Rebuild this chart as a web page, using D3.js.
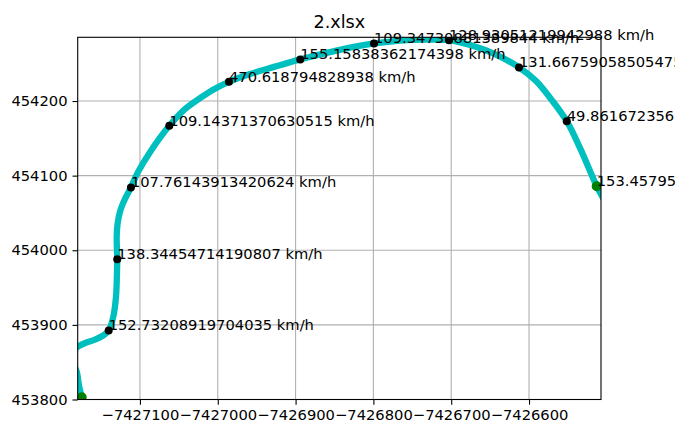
<!DOCTYPE html>
<html>
<head>
<meta charset="utf-8">
<script src="https://cdn.jsdelivr.net/npm/d3@7"></script>
<style>
  body { margin: 0; background: #fff; }
  svg { display: block; font-family: "DejaVu Sans", sans-serif; }
</style>
</head>
<body>
<div id="chart"></div>
<script>
// track (projected metres)
const trackX = [-7427174.9, -7427178.4, -7427181.0, -7427187.4, -7427182.3, -7427170.7, -7427157.8,
  -7427147.6, -7427140.2, -7427134.3, -7427130.8, -7427129.6, -7427129.2, -7427129.9, -7427128.8,
  -7427125.3, -7427120.6, -7427111.6, -7427102.6, -7427087.1, -7427062.3, -7427042.2, -7427022.9,
  -7427003.6, -7426985.6, -7426958.6, -7426926.5, -7426894.0, -7426855.8, -7426823.7, -7426799.2,
  -7426765.8, -7426733.7, -7426702.8, -7426673.3, -7426642.4, -7426612.9, -7426591.0, -7426571.7,
  -7426551.5, -7426533.2, -7426513.0, -7426501.1];
const trackY = [453803.1, 453819.2, 453836.6, 453855.4, 453868.8, 453875.5, 453880.2,
  453885.5, 453892.5, 453910.7, 453937.5, 453966.6, 453988.1, 454018.0, 454035.0,
  454053.1, 454065.8, 454084.2, 454104.7, 454131.5, 454166.8, 454189.2, 454203.9,
  454216.6, 454225.7, 454236.1, 454246.1, 454255.8, 454265.6, 454272.9, 454277.2,
  454281.0, 454282.3, 454281.6, 454274.3, 454262.2, 454245.0, 454226.7, 454202.6,
  454173.0, 454134.2, 454085.9, 454063.1];

// labelled speed points
const speedX = [-7427140.2, -7427129.2, -7427111.6, -7427062.3, -7426985.6, -7426894.0,
  -7426799.2, -7426702.8, -7426612.9, -7426551.5, -7426513.0];
const speedY = [453892.5, 453988.1, 454084.2, 454166.8, 454225.7, 454255.8,
  454277.2, 454281.6, 454245.0, 454173.0, 454085.9];
const speedLabels = ['152.73208919704035 km/h', '138.34454714190807 km/h', '107.76143913420624 km/h',
  '109.14371370630515 km/h', '470.618794828938 km/h', '155.15838362174398 km/h',
  '109.34730881389844 km/h', '128.93051219942988 km/h', '131.66759058505475 km/h',
  '49.86167235612345 km/h', '153.45795328162418 km/h'];

// start / end points
const endX = [-7427174.9, -7426513.0];
const endY = [453803.1, 454085.9];

const xTicks = [-7427100, -7427000, -7426900, -7426800, -7426700, -7426600];
const yTicks = [453800, 453900, 454000, 454100, 454200];
const chartTitle = '2.xlsx';

const W = 675, H = 424;
const plotL = 77.7, plotR = 601, plotT = 37.3, plotB = 399.5;
const fontSize = '14.7px';

const svg = d3.select('#chart').append('svg')
  .attr('width', W).attr('height', H);

const x = d3.scaleLinear().domain([-7427180, -7426507.5]).range([plotL, plotR]);
const y = d3.scaleLinear().domain([453800, 454285.4]).range([plotB, plotT]);

svg.append('defs').append('clipPath').attr('id', 'plot')
  .append('rect').attr('x', plotL).attr('y', plotT)
  .attr('width', plotR - plotL).attr('height', plotB - plotT);

// grid
svg.append('g').selectAll('line').data(xTicks).join('line')
  .attr('x1', d => x(d)).attr('x2', d => x(d))
  .attr('y1', plotT).attr('y2', plotB)
  .attr('stroke', '#b0b0b0').attr('stroke-width', 1.1);
svg.append('g').selectAll('line').data(yTicks).join('line')
  .attr('x1', plotL).attr('x2', plotR)
  .attr('y1', d => y(d)).attr('y2', d => y(d))
  .attr('stroke', '#b0b0b0').attr('stroke-width', 1.1);

const plot = svg.append('g').attr('clip-path', 'url(#plot)');

const line = d3.line()
  .x((d, i) => x(trackX[i]))
  .y((d, i) => y(trackY[i]))
  .curve(d3.curveCatmullRom);

plot.append('path')
  .attr('d', line(trackX))
  .attr('fill', 'none')
  .attr('stroke', '#00bfbf')
  .attr('stroke-width', 6.3)
  .attr('stroke-linejoin', 'round')
  .attr('stroke-linecap', 'round');

plot.selectAll('.speed').data(speedX).join('circle')
  .attr('class', 'speed')
  .attr('cx', d => x(d))
  .attr('cy', (d, i) => y(speedY[i]))
  .attr('r', 4)
  .attr('fill', '#000');

plot.selectAll('.end').data(endX).join('circle')
  .attr('class', 'end')
  .attr('cx', d => x(d))
  .attr('cy', (d, i) => y(endY[i]))
  .attr('r', 5)
  .attr('fill', '#008000');

// spines
svg.append('rect')
  .attr('x', plotL).attr('y', plotT)
  .attr('width', plotR - plotL).attr('height', plotB - plotT)
  .attr('fill', 'none').attr('stroke', '#000').attr('stroke-width', 1.1);

// axes
const fmt = d3.format('d');
const xAxis = svg.append('g')
  .attr('transform', `translate(0,${plotB})`)
  .call(d3.axisBottom(x).tickValues(xTicks).tickFormat(fmt)
    .tickSize(5.2).tickSizeOuter(0).tickPadding(5));
const yAxis = svg.append('g')
  .attr('transform', `translate(${plotL},0)`)
  .call(d3.axisLeft(y).tickValues(yTicks).tickFormat(fmt)
    .tickSize(5.2).tickSizeOuter(0).tickPadding(5));

[xAxis, yAxis].forEach(g => {
  g.select('.domain').remove();
  g.selectAll('.tick line').attr('stroke', '#000').attr('stroke-width', 1.1);
  g.selectAll('.tick text')
    .attr('fill', '#000')
    .style('font-family', '"DejaVu Sans", sans-serif')
    .style('font-size', fontSize);
});

// speed labels
svg.append('g').selectAll('text').data(speedLabels).join('text')
  .attr('x', (d, i) => x(speedX[i]))
  .attr('y', (d, i) => y(speedY[i]))
  .attr('font-size', fontSize)
  .attr('fill', '#000')
  .text(d => d);

// title
svg.append('text')
  .attr('x', (plotL + plotR) / 2)
  .attr('y', 28)
  .attr('text-anchor', 'middle')
  .attr('font-size', '17.6px')
  .attr('fill', '#000')
  .text(chartTitle);
</script>
</body>
</html>
